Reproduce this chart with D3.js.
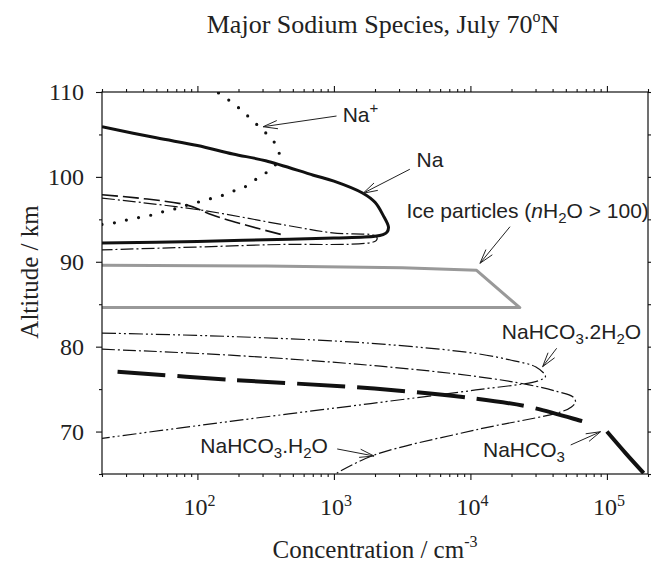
<!DOCTYPE html>
<html>
<head>
<meta charset="utf-8">
<script src="https://cdn.jsdelivr.net/npm/d3@7"></script>
<style>
  body { margin: 0; background: #fff; }
  svg { display: block; }
  .serif { font-family: "Liberation Serif", "Times New Roman", serif; fill: #222; }
  .sans { font-family: "Liberation Sans", Arial, sans-serif; fill: #222; }
</style>
</head>
<body>
<div id="chart"></div>
<script>
// Concentrations (cm^-3) and altitudes (km)
var naConc = [20, 50, 100, 182, 316, 708, 1000, 1620, 2000, 2290, 2510, 2450, 2290, 2000, 1000, 316, 100, 20];
var naAlt = [105.9, 104.6, 103.7, 102.7, 101.9, 100.2, 99.5, 98.1, 97.0, 95.5, 94.1, 93.5, 93.2, 93.0, 92.8, 92.6, 92.4, 92.2];

var naPlusConc = [20, 25, 30, 37, 46, 56, 71, 85, 105, 129, 158, 195, 234, 288, 355, 398, 372, 316, 263, 219, 182, 145, 132];
var naPlusAlt = [94.4, 94.6, 94.9, 95.2, 95.5, 95.9, 96.3, 96.7, 97.1, 97.5, 97.9, 98.5, 99.0, 100.1, 101.0, 102.5, 103.9, 105.2, 106.4, 107.6, 108.7, 109.8, 110.3];

var iceConc = [20, 316, 3160, 11100, 23000, 20];
var iceAlt = [89.6, 89.5, 89.3, 89.0, 84.6, 84.6];

// upper layer (above the ice)
var upHco3Conc = [20, 83, 129, 229, 437];
var upHco3Alt = [97.9, 96.7, 95.5, 94.3, 93.1];
var upHydConc = [20, 105, 447, 977, 2040, 2040, 316, 20];
var upHydAlt = [97.5, 96.1, 94.3, 93.4, 93.0, 92.5, 92.0, 91.4];

// lower layer (below the ice)
var dihydConc = [20, 174, 1860, 10960, 19950, 30200, 35480, 31620, 10960, 1860, 174, 20];
var dihydAlt = [81.6, 81.2, 80.4, 79.2, 78.4, 77.6, 76.5, 76.0, 74.9, 73.3, 71.2, 69.2];

var monohydConc = [20, 174, 1860, 10960, 26920, 43650, 56230, 58880, 54950, 45710, 10960, 1950, 1050];
var monohydAlt = [79.7, 79.0, 77.8, 76.5, 75.5, 74.7, 74.1, 73.5, 72.9, 72.3, 70.2, 67.2, 65.1];

var hco3Conc = [26, 174, 1860, 10700, 26920, 74100, 79400, 100000, 138000, 186000];
var hco3Alt = [77.05, 76.1, 75.1, 73.9, 72.9, 71.0, 70.9, 70.0, 67.4, 65.1];
var hco3SolidFrom = 7;

var yMajor = [70, 80, 90, 100, 110];
var yMinor = [65, 75, 85, 95, 105];
var xMajorExp = [2, 3, 4, 5];

// annotations, in data units: label anchor, arrow tail, arrow tip
var notes = [
  { parts: [['Na'], ['+', 'sup']], at: [1160, 106.5], tail: [1045, 107.17], tip: [303, 105.91] },
  { parts: [['Na']], at: [4035, 101.17], tail: [3600, 100.9], tip: [1636, 98.07] },
  { parts: [['Ice particles ('], ['n', 'it'], ['H'], ['2', 'sub'], ['O > 100)']], at: [3400, 95.16], tail: [19500, 94.13], tip: [11750, 89.82] },
  { parts: [['NaHCO'], ['3', 'sub'], ['.2H'], ['2', 'sub'], ['O']], at: [17000, 80.87], tail: [42850, 79.81], tip: [33800, 77.64] },
  { parts: [['NaHCO'], ['3', 'sub'], ['.H'], ['2', 'sub'], ['O']], at: [105, 67.44], tail: [1057, 67.95], tip: [1968, 67.12] },
  { parts: [['NaHCO'], ['3', 'sub']], at: [12360, 67.04], tail: [54300, 68.42], tip: [89800, 69.98] }
];

var width = 651, height = 562;
var plot = { left: 102, right: 648, top: 92, bottom: 474 };

var x = d3.scaleLog().domain([20, 2e5]).range([plot.left, plot.right]);
var y = d3.scaleLinear().domain([65, 110]).range([plot.bottom, plot.top]);

var svg = d3.select('#chart').append('svg')
  .attr('width', width)
  .attr('height', height);

svg.append('clipPath').attr('id', 'clip')
  .append('rect')
  .attr('x', plot.left).attr('y', plot.top)
  .attr('width', plot.right - plot.left).attr('height', plot.bottom - plot.top);

function zip(c, a) {
  return c.map(function (d, i) { return [d, a[i]]; });
}

var line = d3.line()
  .x(function (d) { return x(d[0]); })
  .y(function (d) { return y(d[1]); })
  .curve(d3.curveCatmullRom.alpha(0.5));

var straight = d3.line()
  .x(function (d) { return x(d[0]); })
  .y(function (d) { return y(d[1]); });

var marks = svg.append('g').attr('clip-path', 'url(#clip)');

function draw(pts, gen, w, dash, color) {
  marks.append('path')
    .datum(pts)
    .attr('d', gen)
    .attr('fill', 'none')
    .attr('stroke', color || '#111')
    .attr('stroke-width', w)
    .attr('stroke-dasharray', dash || null)
    .attr('stroke-linejoin', 'round');
}

var dashDot = '13,3,2,3';
var dashDotDot = '14,3,2,3,2,3';

// ice particle envelope
draw(zip(iceConc, iceAlt), straight, 3, null, '#999');

draw(zip(upHco3Conc, upHco3Alt), line, 1.6, '16,5');
draw(zip(upHydConc, upHydAlt), line, 1.2, dashDot);
draw(zip(dihydConc, dihydAlt), line, 1.2, dashDotDot);
draw(zip(monohydConc, monohydAlt), line, 1.2, dashDot);

var hco3 = zip(hco3Conc, hco3Alt);
draw(hco3.slice(0, hco3SolidFrom), line, 4, '48,12');
draw(hco3.slice(hco3SolidFrom), line, 4);

draw(zip(naConc, naAlt), line, 3);

marks.append('path')
  .datum(zip(naPlusConc, naPlusAlt))
  .attr('d', line)
  .attr('fill', 'none')
  .attr('stroke', '#111')
  .attr('stroke-width', 3.2)
  .attr('stroke-linecap', 'round')
  .attr('stroke-dasharray', '0,12.4');

// axes
var xMinor = [];
[10, 100, 1000, 10000, 100000].forEach(function (dec) {
  for (var m = 2; m <= 9; m++) {
    var v = m * dec;
    if (v >= 20 && v <= 2e5) xMinor.push(v);
  }
});
var xMajor = xMajorExp.map(function (e) { return Math.pow(10, e); });

function axisGroup(axis, tx, ty) {
  var g = svg.append('g')
    .attr('transform', 'translate(' + tx + ',' + ty + ')')
    .call(axis);
  g.selectAll('.domain').remove();
  g.selectAll('.tick line').attr('stroke', '#111').attr('stroke-width', 1.1);
  g.selectAll('.tick text').remove();
  return g;
}

axisGroup(d3.axisBottom(x).tickValues(xMajor).tickSize(6), 0, plot.bottom);
axisGroup(d3.axisBottom(x).tickValues(xMinor).tickSize(3), 0, plot.bottom);
axisGroup(d3.axisTop(x).tickValues(xMajor).tickSize(6), 0, plot.top);
axisGroup(d3.axisTop(x).tickValues(xMinor).tickSize(3), 0, plot.top);
axisGroup(d3.axisLeft(y).tickValues(yMajor).tickSize(6), plot.left, 0);
axisGroup(d3.axisLeft(y).tickValues(yMinor).tickSize(3), plot.left, 0);
axisGroup(d3.axisRight(y).tickValues(yMajor).tickSize(6), plot.right, 0);
axisGroup(d3.axisRight(y).tickValues(yMinor).tickSize(3), plot.right, 0);

svg.append('rect')
  .attr('x', plot.left).attr('y', plot.top)
  .attr('width', plot.right - plot.left).attr('height', plot.bottom - plot.top)
  .attr('fill', 'none')
  .attr('stroke', '#111')
  .attr('stroke-width', 1.2);

// tick labels
svg.append('g').selectAll('text')
  .data(yMajor)
  .enter().append('text')
  .attr('class', 'serif')
  .attr('x', plot.left - 18)
  .attr('y', function (d) { return y(d); })
  .attr('dy', '0.34em')
  .attr('text-anchor', 'end')
  .attr('font-size', 24)
  .text(function (d) { return d; });

var xl = svg.append('g').selectAll('text')
  .data(xMajorExp)
  .enter().append('text')
  .attr('class', 'serif')
  .attr('x', function (d) { return x(Math.pow(10, d)) - 14; })
  .attr('y', 515)
  .attr('font-size', 24);
xl.append('tspan').text('10');
xl.append('tspan').attr('font-size', 16).attr('dy', -9).text(function (d) { return d; });

// titles
var title = svg.append('text')
  .attr('class', 'serif')
  .attr('x', 383)
  .attr('y', 33)
  .attr('text-anchor', 'middle')
  .attr('font-size', 26);
title.append('tspan').text('Major Sodium Species, July 70');
title.append('tspan').attr('font-size', 16).attr('dy', -11).text('o');
title.append('tspan').attr('dy', 11).text('N');

svg.append('text')
  .attr('class', 'serif')
  .attr('transform', 'translate(38,272) rotate(-90)')
  .attr('text-anchor', 'middle')
  .attr('font-size', 25)
  .text('Altitude / km');

var xt = svg.append('text')
  .attr('class', 'serif')
  .attr('x', 375)
  .attr('y', 558)
  .attr('text-anchor', 'middle')
  .attr('font-size', 25);
xt.append('tspan').text('Concentration / cm');
xt.append('tspan').attr('font-size', 16).attr('dy', -11).text('-3');

// annotations
var ann = svg.append('g');
notes.forEach(function (n) {
  var t = ann.append('text')
    .attr('class', 'sans')
    .attr('x', x(n.at[0]))
    .attr('y', y(n.at[1]))
    .attr('font-size', 21);
  var shift = 0;
  n.parts.forEach(function (p) {
    var s = t.append('tspan').text(p[0]);
    var want = 0;
    if (p[1] === 'sub') { s.attr('font-size', 15); want = 5; }
    if (p[1] === 'sup') { s.attr('font-size', 15); want = -9; }
    if (p[1] === 'it') s.attr('font-style', 'italic');
    if (want !== shift) { s.attr('dy', want - shift); shift = want; }
  });

  var x0 = x(n.tail[0]), y0 = y(n.tail[1]);
  var x1 = x(n.tip[0]), y1 = y(n.tip[1]);
  var ang = Math.atan2(y0 - y1, x0 - x1);
  var len = 15, spread = 0.28;
  ann.append('path')
    .attr('d', 'M' + x0 + ',' + y0 + 'L' + x1 + ',' + y1 +
      'M' + (x1 + len * Math.cos(ang + spread)) + ',' + (y1 + len * Math.sin(ang + spread)) +
      'L' + x1 + ',' + y1 +
      'L' + (x1 + len * Math.cos(ang - spread)) + ',' + (y1 + len * Math.sin(ang - spread)))
    .attr('fill', 'none')
    .attr('stroke', '#222')
    .attr('stroke-width', 1);
});
</script>
</body>
</html>
